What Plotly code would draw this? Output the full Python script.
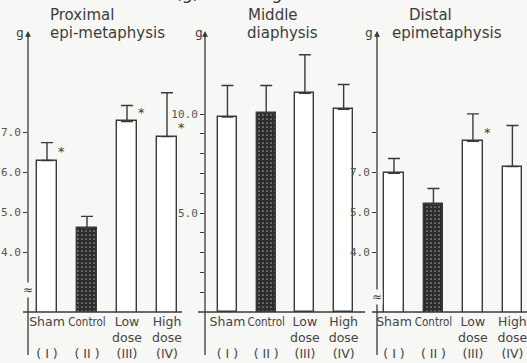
import plotly.graph_objects as go

W, H = 527, 363

categories = ["Sham", "Control", "Low dose", "High dose"]
tick_labels = ["Sham<br> <br>( I )",
               "<span style='font-family:DejaVu Sans Condensed;font-stretch:condensed;font-size:11.5px'>Control</span><br> <br>( II )",
               "Low<br>dose<br>(III)", "High<br>dose<br>(IV)"]

# Proximal epi-metaphysis
prox_mean = [6.3, 4.6, 7.28, 6.9]
prox_err = [0.45, 0.3, 0.4, 1.1]
prox_sig = [True, False, True, True]

# Middle diaphysis
mid_mean = [9.85, 10.05, 11.05, 10.25]
mid_err = [1.6, 1.4, 1.95, 1.25]

# Distal epimetaphysis
dist_mean = [5.98, 5.2, 6.78, 6.15]
dist_err = [0.37, 0.4, 0.69, 1.03]
dist_sig = [False, False, True, False]

prox_ticks = [4, 5, 6, 7]
prox_ticktext = ["4.0", "5.0", "6.0", "7.0"]
mid_ticks = [1, 2, 3, 4, 5, 6, 7, 8, 9, 10]
mid_ticktext = ["", "", "", "", "5.0", "", "", "", "", "10.0"]
dist_ticks = [4, 5, 6, 7]
dist_ticktext = ["4.0", "5.0", "7.0", ""]

panel_titles = [("Proximal", "epi-metaphysis"), ("Middle", "diaphysis"), ("Distal", "epimetaphysis")]
main_title = "BMC(g) of the right femur"

INK = "#3a3a3a"
BG = "#f7f7f5"

def px(x):
    return x / W

def py(y):
    return 1 - y / H

fill = ["white", "#2c2c2c", "white", "white"]

fig = go.Figure()
panels = [
    (prox_mean, prox_err, "x", "y", 0.5),
    (mid_mean, mid_err, "x2", "y2", 0.49),
    (dist_mean, dist_err, "x3", "y3", 0.5),
]
for mean, err, xa, ya, bw in panels:
    fig.add_trace(go.Bar(
        x=list(range(4)), y=mean, xaxis=xa, yaxis=ya, width=bw,
        marker=dict(color=fill, line=dict(color=INK, width=1.4),
                    pattern=dict(shape=["", ".", "", ""], fgcolor="#5a5a5a",
                                 bgcolor="#2c2c2c", size=4, solidity=0.15)),
        error_y=dict(type="data", array=err, arrayminus=[0] * 4, symmetric=False,
                     color=INK, thickness=1.4, width=6),
        showlegend=False, hoverinfo="skip"))

ybot, ytop = 312, 33
ydom = [py(ybot), py(ytop)]
tickfont = dict(family="DejaVu Sans Mono", size=11, color="#555")
xfont = dict(family="DejaVu Sans", size=12.5, color="#444")

def xaxis(dom, rng, anchor):
    return dict(domain=dom, range=rng, anchor=anchor, tickvals=list(range(4)),
                ticktext=tick_labels, tickfont=xfont, showgrid=False, tickangle=0,
                zeroline=False, showline=False, ticks="", ticklabelstandoff=0,
                automargin=False, ticklabeloverflow="allow")

def yaxis(rng, tv, tt, anchor):
    return dict(domain=ydom, range=rng, anchor=anchor, tickvals=tv, ticktext=tt,
                tickfont=tickfont, showgrid=False, zeroline=False, showline=False,
                ticks="outside", ticklen=4, tickcolor=INK, tickwidth=1,
                automargin=False)

# axis pixel positions
ax_x = [28, 205, 377]
fig.update_layout(
    width=W, height=H, margin=dict(l=0, r=0, t=0, b=0, autoexpand=False),
    paper_bgcolor=BG, plot_bgcolor=BG,
    bargap=0,
    xaxis=xaxis([px(28), px(187)], [-0.475, 3.5], "y"),
    xaxis2=xaxis([px(205), px(363)], [-0.58, 3.5], "y2"),
    xaxis3=xaxis([px(377), px(527)], [-0.43, 3.37], "y3"),
    yaxis=yaxis([2.5, 9.5], prox_ticks, prox_ticktext, "x"),
    yaxis2=yaxis([0, 14.1], mid_ticks, mid_ticktext, "x2"),
    yaxis3=yaxis([2.5, 9.5], dist_ticks, dist_ticktext, "x3"),
)

shapes = []
annotations = []
base_ext = [(23, 182), (198, 365), (372, 527)]
title_x = [48, 245, 390]
title1_x = [48, 246, 407]
g_x = [20, 199, 369]
break_y = [290, None, 297]
for i, xa in enumerate(ax_x):
    # vertical axis extending below the baseline
    shapes.append(dict(type="line", xref="paper", yref="paper", x0=px(xa), x1=px(xa),
                       y0=py(355), y1=py(ytop), line=dict(color=INK, width=1.3)))
    # baseline
    shapes.append(dict(type="line", xref="paper", yref="paper",
                       x0=px(base_ext[i][0]), x1=px(base_ext[i][1]),
                       y0=py(ybot), y1=py(ybot), line=dict(color=INK, width=1.3)))
    # arrowhead
    annotations.append(dict(xref="paper", yref="paper", x=px(xa), y=py(ytop - 2),
                            ax=0, ay=8, text="", showarrow=True, arrowhead=2,
                            arrowsize=0.9, arrowwidth=1.3, arrowcolor=INK))
    annotations.append(dict(xref="paper", yref="paper", x=px(g_x[i]), y=py(32),
                            text="g", showarrow=False, xanchor="center", yanchor="middle",
                            font=dict(family="DejaVu Sans Mono", size=13, color="#444")))
    annotations.append(dict(xref="paper", yref="paper", x=px(title1_x[i]), y=py(15),
                            text=panel_titles[i][0], showarrow=False, xanchor="left",
                            yanchor="middle",
                            font=dict(family="DejaVu Sans", size=15, color="#3c3c3c")))
    annotations.append(dict(xref="paper", yref="paper", x=px(title_x[i]), y=py(33),
                            text=panel_titles[i][1], showarrow=False, xanchor="left",
                            yanchor="middle",
                            font=dict(family="DejaVu Sans", size=15, color="#3c3c3c")))
    if break_y[i]:
        annotations.append(dict(xref="paper", yref="paper", x=px(xa), y=py(break_y[i]),
                                text="≈", showarrow=False, xanchor="center",
                                yanchor="middle", bgcolor=BG, borderpad=0,
                                font=dict(family="DejaVu Sans", size=12, color=INK)))

# significance asterisks
for xa_name, ya_name, means, sig in [("x", "y", prox_mean, prox_sig), ("x3", "y3", dist_mean, dist_sig)]:
    for i, s in enumerate(sig):
        if s:
            annotations.append(dict(xref=xa_name, yref=ya_name, x=i + 0.37, y=means[i] + 0.22,
                                    text="*", showarrow=False,
                                    font=dict(family="DejaVu Sans", size=13, color=INK)))

annotations.append(dict(xref="paper", yref="paper", x=px(246), y=py(5), text=main_title,
                        showarrow=False, xanchor="center", yanchor="bottom",
                        font=dict(family="DejaVu Sans", size=17, color="#3c3c3c")))

fig.update_layout(shapes=shapes, annotations=annotations)
fig.write_html("out.html", config={"displayModeBar": False},
               post_script="document.body.style.margin='0';document.body.style.background='#f7f7f5';")
